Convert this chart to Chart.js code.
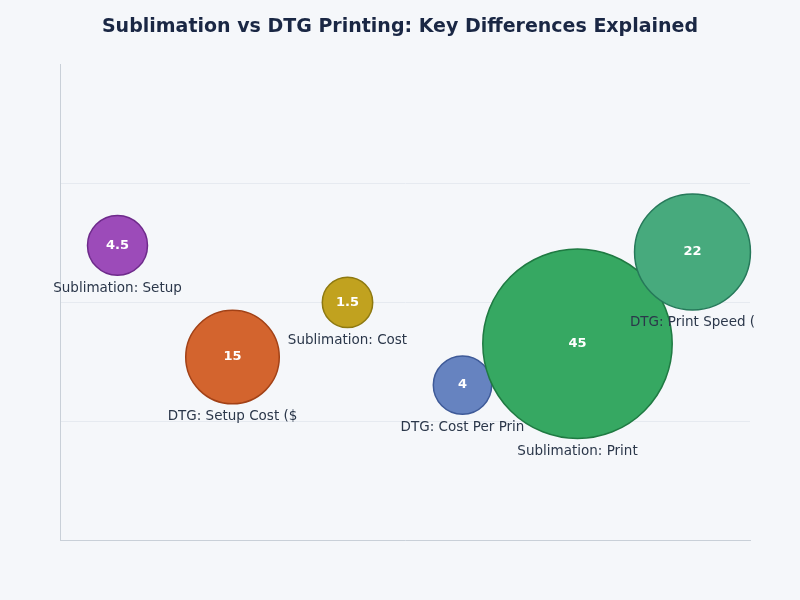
<!DOCTYPE html>
<html>
<head>
<meta charset="utf-8">
<script src="https://cdn.jsdelivr.net/npm/chart.js@4.4.1/dist/chart.umd.min.js"></script>
<style>
  html, body { margin: 0; padding: 0; background: #f5f7fa; }
  #wrap { width: 800px; height: 600px; }
</style>
</head>
<body>
<div id="wrap"><canvas id="bubbleChart" width="800" height="600"></canvas></div>
<script>
const labels = [
    'Sublimation: Setup Cost ($)',
    'DTG: Setup Cost ($)',
    'Sublimation: Cost Per Print ($)',
    'DTG: Cost Per Print ($)',
    'Sublimation: Print Speed (units/hr)',
    'DTG: Print Speed (units/hr)'
];
const values = [4.5, 15, 1.5, 4, 45, 22];
const yPos = [62, 38.5, 50, 32.6, 41.3, 60.6];

const fillColors = ['#9c4bb9', '#d3642e', '#c1a21f', '#6683c0', '#36a862', '#47aa7d'];
const borderColors = ['#6e2a8b', '#a24116', '#8e7910', '#3e5a98', '#1f7a42', '#26795a'];

const minV = Math.min(...values);
const maxV = Math.max(...values);
const sizeFor = v => 25.2 + (v - minV) / (maxV - minV) * 69.5;

const points = values.map((v, i) => ({ x: i, y: yPos[i], r: sizeFor(v) }));

// value in the middle, short name under each bubble
const bubbleText = {
    id: 'bubbleText',
    afterDatasetsDraw(chart) {
        const ctx = chart.ctx;
        const meta = chart.getDatasetMeta(0);
        ctx.save();
        ctx.textAlign = 'center';
        ctx.textBaseline = 'middle';
        meta.data.forEach((el, i) => {
            ctx.fillStyle = '#ffffff';
            ctx.font = 'bold 13px "DejaVu Sans"';
            ctx.fillText(String(values[i]), el.x, el.y);
            ctx.fillStyle = '#2b374a';
            ctx.font = '13.5px "DejaVu Sans"';
            const r = el.options.radius + el.options.borderWidth / 2;
            ctx.fillText(labels[i].substring(0, 18).trim(), el.x, el.y + r + 12);
        });
        ctx.restore();
    }
};

new Chart(document.getElementById('bubbleChart').getContext('2d'), {
    type: 'bubble',
    data: {
        datasets: [{
            data: points,
            backgroundColor: fillColors,
            borderColor: borderColors,
            borderWidth: 1.5,
            hoverRadius: 0,
            clip: false
        }]
    },
    options: {
        responsive: false,
        animation: false,
        layout: { autoPadding: false, padding: { left: 50, right: 50, bottom: 52, top: 0 } },
        plugins: {
            legend: { display: false },
            tooltip: { enabled: false },
            title: {
                display: true,
                text: 'Sublimation vs DTG Printing: Key Differences Explained',
                color: '#1a2744',
                font: { family: 'DejaVu Sans', size: 19, weight: 'bold' },
                padding: { top: 16, bottom: 26 }
            }
        },
        scales: {
            x: {
                min: -0.5,
                max: 5.5,
                ticks: { display: false },
                grid: { display: false },
                border: { display: true, color: '#c9d0d8', width: 1 }
            },
            y: {
                min: 0,
                max: 100,
                ticks: { display: false, stepSize: 25 },
                afterFit: scale => { scale.width = 10; },
                grid: {
                    color: c => (c.tick && c.tick.value === 100) ? 'rgba(0,0,0,0)' : '#e6eaf0',
                    drawTicks: false
                },
                border: { display: true, color: '#c9d0d8', width: 1 }
            }
        }
    },
    plugins: [bubbleText]
});
</script>
</body>
</html>
